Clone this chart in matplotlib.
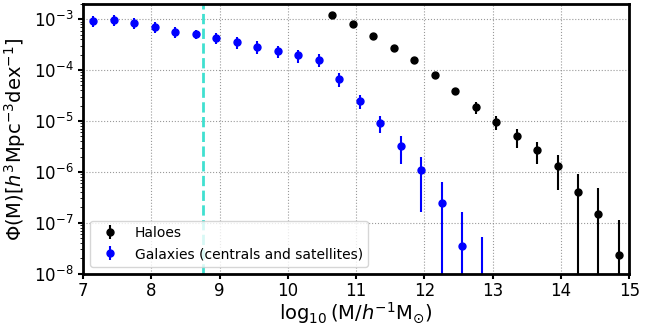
import matplotlib
matplotlib.use('Agg')
import matplotlib.pyplot as plt
import numpy as np

# galaxy mass function (centrals and satellites)
gal_logm = [7.15, 7.45, 7.75, 8.05, 8.35, 8.65, 8.95, 9.25, 9.55, 9.85,
            10.15, 10.45, 10.75, 11.05, 11.35, 11.65, 11.95, 12.25, 12.55, 12.85]
gal_phi = [9.3e-4, 9.7e-4, 8.6e-4, 7.0e-4, 5.7e-4, 5.1e-4, 4.3e-4, 3.5e-4, 2.87e-4, 2.36e-4,
           1.94e-4, 1.6e-4, 6.6e-5, 2.5e-5, 9.2e-6, 3.2e-6, 1.07e-6, 2.4e-7, 3.55e-8, 1e-9]
gal_err = [2.4e-4, 2.4e-4, 2.1e-4, 1.7e-4, 1.4e-4, 1.1e-4, 1.1e-4, 9.5e-5, 8.0e-5, 6.6e-5,
           5.4e-5, 4.5e-5, 2.0e-5, 8.0e-6, 3.4e-6, 1.76e-6, 9.1e-7, 3.9e-7, 1.28e-7, 5.1e-8]

# halo mass function
halo_logm = [10.65, 10.95, 11.25, 11.55, 11.85, 12.15, 12.45, 12.75, 13.05, 13.35,
             13.65, 13.95, 14.25, 14.55, 14.85]
halo_phi = [1.23e-3, 7.98e-4, 4.78e-4, 2.66e-4, 1.55e-4, 8.1e-5, 3.83e-5, 1.86e-5, 9.6e-6, 5.0e-6,
            2.65e-6, 1.29e-6, 4.1e-7, 1.48e-7, 2.37e-8]
halo_err = [2e-5, 1.5e-5, 1.0e-5, 8e-6, 7e-6, 8e-6, 6.5e-6, 4.6e-6, 2.9e-6, 2.05e-6,
            1.2e-6, 8.4e-7, 4.8e-7, 3.45e-7, 9.1e-8]

mass_limit = 8.75

fig, ax = plt.subplots(figsize=(6.5, 3.25), dpi=100)
fig.subplots_adjust(left=0.128, right=0.968, bottom=0.158, top=0.988)

ax.errorbar(halo_logm, halo_phi, yerr=halo_err, fmt='o', color='k', ms=5,
            elinewidth=1.5, label='Haloes')
ax.errorbar(gal_logm, gal_phi, yerr=gal_err, fmt='o', color='b', ms=5,
            elinewidth=1.5, label='Galaxies (centrals and satellites)')
ax.axvline(mass_limit, color='turquoise', ls='--', lw=2)

ax.set_yscale('log')
ax.set_xlim(7, 15)
ax.set_ylim(1e-8, 2e-3)
ax.grid(True, ls=':', color='gray', alpha=0.8)
for s in ax.spines.values():
    s.set_linewidth(2)
ax.tick_params(labelsize=12, width=1.5)
ax.tick_params(axis='x', pad=2.5)

ax.set_xlabel(r'$\log_{10}(\mathrm{M}/h^{-1}\mathrm{M}_{\odot})$', fontsize=14, labelpad=0)
ax.set_ylabel(r'$\Phi(\mathrm{M})[h^3\mathrm{Mpc}^{-3}\mathrm{dex}^{-1}]$', fontsize=14)
ax.legend(loc='lower left', fontsize=10)

plt.savefig('out.png')
